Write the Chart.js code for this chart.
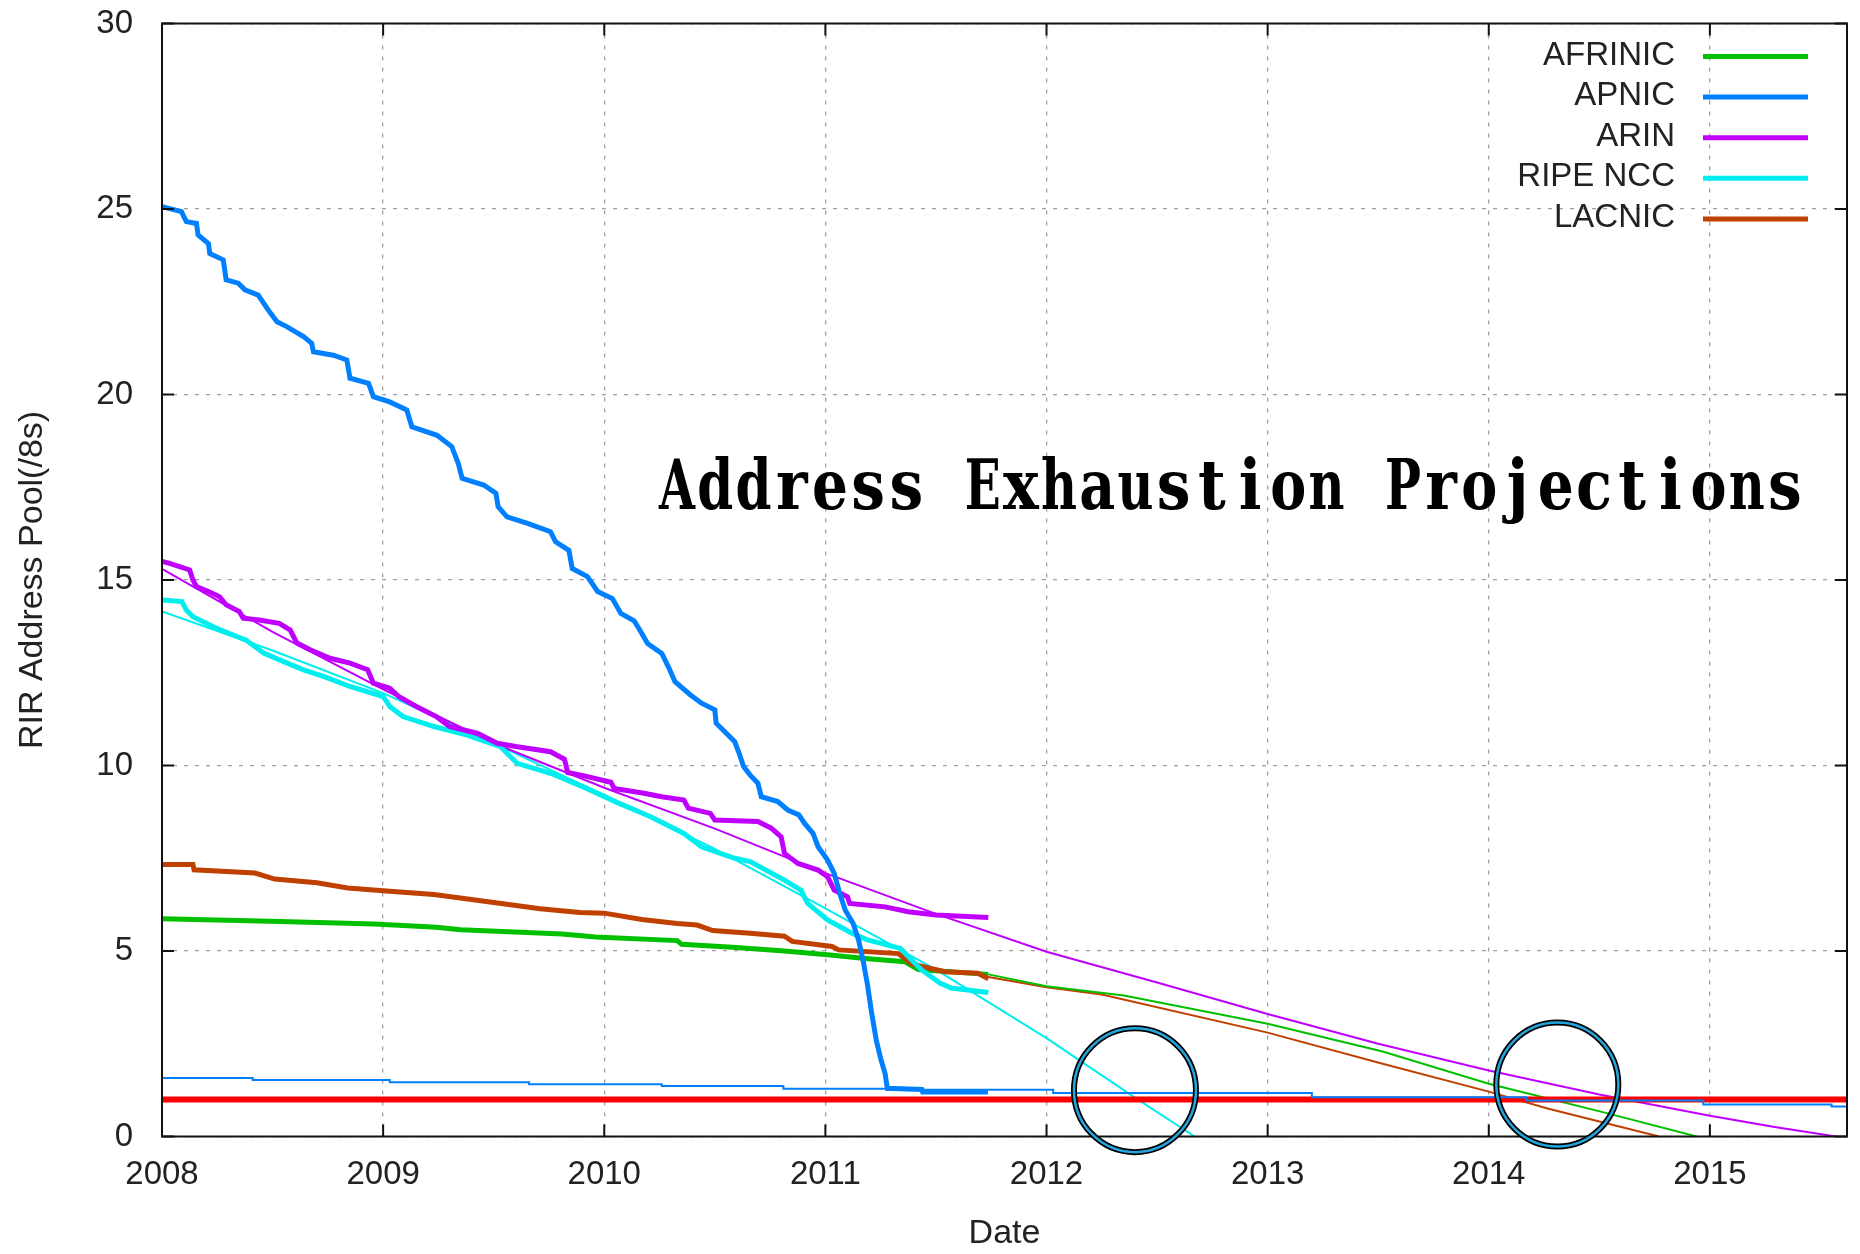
<!DOCTYPE html>
<html>
<head>
<meta charset="utf-8">
<title>Address Exhaustion Projections</title>
<script src="https://cdn.jsdelivr.net/npm/chart.js@4.4.1/dist/chart.umd.min.js"></script>
<style>
  html, body { margin: 0; padding: 0; background: #fff; }
  #wrap { width: 1860px; height: 1254px; }
</style>
</head>
<body>
<div id="wrap"><canvas id="rirChart" width="1860" height="1254"></canvas></div>
<script>
// RIR free pool (/8s) – measured history plus fitted projections
const yearTicks = [2008, 2009, 2010, 2011, 2012, 2013, 2014, 2015];
const yearLabels = ['2008', '2009', '2010', '2011', '2012', '2013', '2014', '2015'];
const poolTicks = [0, 5, 10, 15, 20, 25, 30];
const poolLabels = ['0', '5', '10', '15', '20', '25', '30'];

const rirNames = ['AFRINIC', 'APNIC', 'ARIN', 'RIPE NCC', 'LACNIC'];
const rirColors = ['#00c000', '#0080ff', '#c000ff', '#00eeee', '#c04000'];

// measured pools
const apnicYears = [2008.0, 2008.088, 2008.11, 2008.156, 2008.163, 2008.21, 2008.216, 2008.277, 2008.29, 2008.345, 2008.375, 2008.435, 2008.48, 2008.52, 2008.564, 2008.64, 2008.677, 2008.685, 2008.775, 2008.836, 2008.85, 2008.934, 2008.956, 2009.03, 2009.107, 2009.13, 2009.244, 2009.31, 2009.34, 2009.357, 2009.455, 2009.51, 2009.52, 2009.56, 2009.65, 2009.757, 2009.78, 2009.84, 2009.855, 2009.924, 2009.97, 2010.037, 2010.075, 2010.135, 2010.17, 2010.196, 2010.26, 2010.29, 2010.32, 2010.39, 2010.44, 2010.5, 2010.506, 2010.56, 2010.59, 2010.61, 2010.63, 2010.66, 2010.695, 2010.71, 2010.785, 2010.83, 2010.88, 2010.906, 2010.944, 2010.967, 2011.01, 2011.04, 2011.065, 2011.09, 2011.125, 2011.15, 2011.17, 2011.19, 2011.21, 2011.23, 2011.25, 2011.27, 2011.28, 2011.436, 2011.44, 2011.735];
const apnicPool = [25.06, 24.93, 24.66, 24.61, 24.3, 24.07, 23.8, 23.63, 23.09, 23.0, 22.82, 22.68, 22.28, 21.96, 21.83, 21.56, 21.38, 21.15, 21.06, 20.93, 20.44, 20.3, 19.94, 19.8, 19.58, 19.13, 18.9, 18.6, 18.14, 17.74, 17.56, 17.34, 16.98, 16.7, 16.53, 16.3, 16.03, 15.8, 15.31, 15.09, 14.69, 14.5, 14.1, 13.9, 13.56, 13.29, 13.02, 12.66, 12.26, 11.9, 11.68, 11.5, 11.14, 10.82, 10.64, 10.33, 9.97, 9.74, 9.52, 9.16, 9.03, 8.8, 8.67, 8.44, 8.17, 7.81, 7.45, 7.09, 6.55, 6.1, 5.75, 5.3, 4.76, 4.1, 3.3, 2.6, 2.1, 1.7, 1.3, 1.27, 1.2, 1.2];

const arinYears = [2008.0, 2008.035, 2008.125, 2008.14, 2008.156, 2008.21, 2008.26, 2008.29, 2008.35, 2008.367, 2008.44, 2008.53, 2008.58, 2008.61, 2008.67, 2008.76, 2008.85, 2008.93, 2008.956, 2009.03, 2009.07, 2009.15, 2009.24, 2009.3, 2009.425, 2009.516, 2009.6, 2009.757, 2009.82, 2009.835, 2009.91, 2010.03, 2010.045, 2010.18, 2010.26, 2010.36, 2010.38, 2010.48, 2010.5, 2010.695, 2010.755, 2010.8, 2010.815, 2010.876, 2010.967, 2011.01, 2011.04, 2011.1, 2011.11, 2011.27, 2011.375, 2011.5, 2011.737];
const arinPool = [15.5, 15.45, 15.27, 15.0, 14.82, 14.69, 14.55, 14.33, 14.15, 13.97, 13.92, 13.83, 13.65, 13.3, 13.12, 12.89, 12.76, 12.58, 12.22, 12.08, 11.86, 11.59, 11.32, 11.05, 10.87, 10.6, 10.51, 10.37, 10.17, 9.81, 9.72, 9.55, 9.38, 9.25, 9.16, 9.07, 8.85, 8.71, 8.53, 8.49, 8.31, 8.08, 7.63, 7.36, 7.18, 7.0, 6.64, 6.46, 6.28, 6.19, 6.06, 5.97, 5.9];

const ripeYears = [2008.0, 2008.09, 2008.11, 2008.14, 2008.246, 2008.38, 2008.46, 2008.55, 2008.64, 2008.73, 2008.85, 2009.0, 2009.03, 2009.09, 2009.23, 2009.38, 2009.53, 2009.606, 2009.757, 2009.91, 2010.06, 2010.21, 2010.36, 2010.44, 2010.59, 2010.66, 2010.815, 2010.89, 2010.92, 2011.01, 2011.12, 2011.19, 2011.34, 2011.39, 2011.435, 2011.52, 2011.57, 2011.737];
const ripePool = [14.46, 14.42, 14.19, 14.01, 13.7, 13.38, 13.03, 12.8, 12.58, 12.4, 12.13, 11.86, 11.59, 11.32, 11.05, 10.82, 10.51, 10.06, 9.79, 9.41, 9.0, 8.62, 8.17, 7.81, 7.5, 7.41, 6.91, 6.64, 6.28, 5.84, 5.48, 5.3, 5.07, 4.76, 4.49, 4.13, 4.0, 3.88];

const lacnicYears = [2008.0, 2008.14, 2008.145, 2008.42, 2008.51, 2008.7, 2008.84, 2009.03, 2009.23, 2009.45, 2009.71, 2009.89, 2010.0, 2010.17, 2010.33, 2010.42, 2010.49, 2010.66, 2010.815, 2010.85, 2011.03, 2011.06, 2011.33, 2011.39, 2011.54, 2011.69, 2011.737];
const lacnicPool = [7.33, 7.33, 7.19, 7.1, 6.94, 6.84, 6.7, 6.61, 6.52, 6.35, 6.14, 6.04, 6.02, 5.85, 5.74, 5.7, 5.55, 5.48, 5.4, 5.26, 5.12, 5.03, 4.93, 4.65, 4.44, 4.4, 4.25];

const afrinicYears = [2008.0, 2008.49, 2008.96, 2009.24, 2009.35, 2009.81, 2009.96, 2010.33, 2010.35, 2010.58, 2010.815, 2011.01, 2011.18, 2011.36, 2011.42, 2011.737];
const afrinicPool = [5.87, 5.8, 5.73, 5.64, 5.57, 5.46, 5.38, 5.28, 5.18, 5.1, 5.0, 4.9, 4.8, 4.71, 4.5, 4.37];

// fitted projections
const apnicFitYears = [2008, 2008.41, 2009.03, 2009.66, 2010.26, 2010.81, 2011.28, 2012.03, 2013.2, 2014.17, 2014.97, 2015.55, 2015.62];
const apnicFitPool = [1.58, 1.52, 1.46, 1.41, 1.36, 1.29, 1.26, 1.17, 1.06, 0.97, 0.86, 0.81, 0.81];
const arinFitYears = [2008, 2008.5, 2009, 2009.5, 2010, 2010.5, 2011, 2011.5, 2012, 2012.5, 2013, 2013.5, 2014, 2014.5, 2015, 2015.3, 2015.57];
const arinFitPool = [15.3, 13.6, 12.05, 10.6, 9.4, 8.3, 7.1, 6.0, 4.98, 4.15, 3.3, 2.5, 1.78, 1.13, 0.56, 0.25, 0];
const ripeFitYears = [2008, 2008.5, 2009, 2009.5, 2010, 2010.5, 2011, 2011.5, 2012, 2012.4, 2012.67];
const ripeFitPool = [14.15, 13.1, 11.95, 10.6, 9.2, 7.75, 6.15, 4.5, 2.65, 1.05, 0];
const afrinicFitYears = [2011.737, 2012, 2012.35, 2013, 2013.52, 2014, 2014.52, 2014.94];
const afrinicFitPool = [4.37, 4.05, 3.8, 3.04, 2.29, 1.42, 0.65, 0];
const lacnicFitYears = [2011.737, 2012, 2012.25, 2013, 2013.52, 2014, 2014.27, 2014.77];
const lacnicFitPool = [4.3, 4.02, 3.83, 2.8, 1.96, 1.21, 0.75, 0];

// exhaustion threshold (1 /8) and highlighted crossings
const thresholdYears = [2008, 2015.62];
const thresholdPool = [1, 1];
const circleYears = [2012.40, 2014.31];
const circlePool = [1.25, 1.4];

const TITLE = 'Address Exhaustion Projections';

function pts(xs, ys) {
    return xs.map((x, i) => ({ x: x, y: ys[i] }));
}

function thick(label, xs, ys, color) {
    return { label, data: pts(xs, ys), borderColor: color, borderWidth: 5, pointRadius: 0, tension: 0, fill: false };
}

function thin(label, xs, ys, color, stepped) {
    return { label, data: pts(xs, ys), borderColor: color, borderWidth: 2, pointRadius: 0, tension: 0, fill: false, stepped: !!stepped };
}

// gnuplot style frame with inward ticks on all sides
const framePlugin = {
    id: 'frame',
    afterDatasetsDraw(chart) {
        const { ctx, chartArea: a, scales } = chart;
        ctx.save();
        ctx.strokeStyle = '#111';
        ctx.lineWidth = 2;
        ctx.strokeRect(a.left, a.top, a.right - a.left, a.bottom - a.top);
        ctx.beginPath();
        yearTicks.forEach(v => {
            const x = scales.x.getPixelForValue(v);
            ctx.moveTo(x, a.bottom); ctx.lineTo(x, a.bottom - 12);
            ctx.moveTo(x, a.top); ctx.lineTo(x, a.top + 12);
        });
        poolTicks.forEach(v => {
            const y = scales.y.getPixelForValue(v);
            ctx.moveTo(a.left, y); ctx.lineTo(a.left + 12, y);
            ctx.moveTo(a.right, y); ctx.lineTo(a.right - 12, y);
        });
        ctx.stroke();

        // rings around the crossings
        circleYears.forEach((yr, i) => {
            const cx = scales.x.getPixelForValue(yr);
            const cy = scales.y.getPixelForValue(circlePool[i]);
            ctx.beginPath();
            ctx.ellipse(cx, cy, 61, 62, 0, 0, Math.PI * 2);
            ctx.strokeStyle = '#000';
            ctx.lineWidth = 6;
            ctx.stroke();
            ctx.strokeStyle = '#23a6de';
            ctx.lineWidth = 2.5;
            ctx.stroke();
        });
        ctx.restore();
    },
    afterDraw(chart) {
        const { ctx, chartArea: a } = chart;
        ctx.save();
        // legend: label right aligned, sample line to its right
        ctx.font = '33px "Liberation Sans", Arial, sans-serif';
        ctx.textAlign = 'right';
        ctx.textBaseline = 'middle';
        rirNames.forEach((name, i) => {
            const y = a.top + 32 + i * 40.6;
            ctx.fillStyle = '#222';
            ctx.fillText(name, a.right - 172, y);
            ctx.strokeStyle = rirColors[i];
            ctx.lineWidth = 5;
            ctx.beginPath();
            ctx.moveTo(a.right - 144, y + 1);
            ctx.lineTo(a.right - 39, y + 1);
            ctx.stroke();
        });
        // typewriter title: fixed pitch cells, serif glyphs
        ctx.fillStyle = '#000';
        ctx.font = 'bold 60px "DejaVu Serif", "Liberation Serif", serif';
        ctx.textAlign = 'center';
        ctx.textBaseline = 'alphabetic';
        const pitch = 38.2, x0 = 658, base = 509;
        [...TITLE].forEach((ch, i) => {
            if (ch === ' ') return;
            const w = ctx.measureText(ch).width;
            const sx = Math.min(1, 36 / w);
            ctx.save();
            ctx.translate(x0 + (i + 0.5) * pitch, base);
            ctx.scale(sx, 1.15);
            ctx.fillText(ch, 0, 0);
            ctx.restore();
        });
        ctx.restore();
    }
};

const tickFont = { family: '"Liberation Sans", Arial, sans-serif', size: 33 };

new Chart(document.getElementById('rirChart').getContext('2d'), {
    type: 'line',
    data: {
        datasets: [
            thick(rirNames[1], apnicYears, apnicPool, rirColors[1]),
            thick(rirNames[2], arinYears, arinPool, rirColors[2]),
            thick(rirNames[3], ripeYears, ripePool, rirColors[3]),
            thick(rirNames[4], lacnicYears, lacnicPool, rirColors[4]),
            thick(rirNames[0], afrinicYears, afrinicPool, rirColors[0]),
            thin('APNIC fit', apnicFitYears, apnicFitPool, rirColors[1], true),
            { label: 'threshold', data: pts(thresholdYears, thresholdPool), borderColor: '#ff0000', borderWidth: 6, pointRadius: 0, fill: false },
            thin('ARIN fit', arinFitYears, arinFitPool, rirColors[2]),
            thin('RIPE NCC fit', ripeFitYears, ripeFitPool, rirColors[3]),
            thin('AFRINIC fit', afrinicFitYears, afrinicFitPool, rirColors[0]),
            thin('LACNIC fit', lacnicFitYears, lacnicFitPool, rirColors[4])
        ]
    },
    options: {
        responsive: false,
        animation: false,
        devicePixelRatio: 1,
        layout: { padding: { top: 0, right: 13, left: 0, bottom: 0 } },
        scales: {
            x: {
                type: 'linear',
                min: 2008,
                max: 2015.62,
                afterBuildTicks: s => { s.ticks = yearTicks.map(v => ({ value: v })); },
                afterFit: s => { s.height = 117.5; },
                ticks: { font: tickFont, color: '#222', padding: 19, maxRotation: 0, autoSkip: false, callback: (v, i) => yearLabels[i] },
                grid: { color: '#a0a0a0', lineWidth: 1.3, drawTicks: false },
                border: { display: false, dash: [4, 7] },
                title: { display: true, text: 'Date', font: { family: tickFont.family, size: 34 }, color: '#222', padding: { top: 0, bottom: 0 } }
            },
            y: {
                type: 'linear',
                min: 0,
                max: 30,
                afterBuildTicks: s => { s.ticks = poolTicks.map(v => ({ value: v })); },
                afterFit: s => { s.width = 162; s.paddingTop = 23.5; s.paddingBottom = 0; },
                ticks: { font: tickFont, color: '#222', padding: 29, callback: (v, i) => poolLabels[i] },
                grid: { color: '#a0a0a0', lineWidth: 1.3, drawTicks: false },
                border: { display: false, dash: [4, 7] },
                title: { display: true, text: 'RIR Address Pool(/8s)', font: { family: tickFont.family, size: 34 }, color: '#222', padding: { top: 12, bottom: 0 } }
            }
        },
        plugins: {
            legend: { display: false },
            tooltip: { enabled: false }
        }
    },
    plugins: [framePlugin]
});
</script>
</body>
</html>
